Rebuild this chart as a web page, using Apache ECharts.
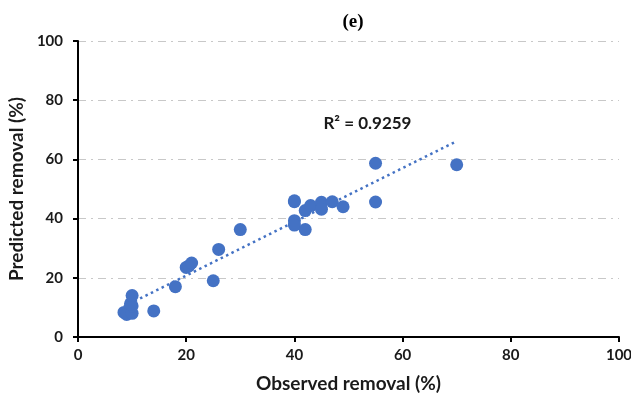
<!DOCTYPE html>
<html>
<head>
<meta charset="utf-8">
<script src="https://cdn.jsdelivr.net/npm/echarts@6/dist/echarts.min.js"></script>
<style>
html,body{margin:0;padding:0;background:#fff;}
#c{width:631px;height:396px;}
</style>
</head>
<body>
<div id="c"></div>
<script>
// observed vs predicted removal (%)
var observed  = [8.5, 9, 10, 10, 9.7, 10, 14, 18, 20, 20.5, 21, 25, 26, 30,
                 40, 40, 40, 40, 42, 42, 43, 45, 45, 47, 49, 55, 55, 70];
var predicted = [8.3, 7.6, 8, 10.5, 11.2, 14, 8.8, 17, 23.5, 24, 25, 19, 29.6, 36.3,
                 45.7, 46, 39.3, 37.8, 42.7, 36.3, 44.4, 45.5, 43.2, 45.7, 44, 58.7, 45.6, 58.2];
var xTicks = [0, 20, 40, 60, 80, 100];
var yTicks = [0, 20, 40, 60, 80, 100];
var r2Label = "R² = 0.9259";
var title = "(e)";

var pts = observed.map(function(x,i){ return [x, predicted[i]]; });

// least squares trendline over the observed range
var n = pts.length, sx=0, sy=0, sxx=0, sxy=0;
pts.forEach(function(p){ sx+=p[0]; sy+=p[1]; sxx+=p[0]*p[0]; sxy+=p[0]*p[1]; });
var slope = (n*sxy - sx*sy)/(n*sxx - sx*sx);
var icpt = (sy - slope*sx)/n;
var xMin = Math.min.apply(null, observed), xMax = Math.max.apply(null, observed);
var trend = [[xMin, icpt+slope*xMin], [xMax, icpt+slope*xMax]];

var BLUE = "#4472C4";
var ch = echarts.init(document.getElementById("c"), null, {renderer:"canvas"});
ch.setOption({
  animation:false,
  backgroundColor:"#fff",
  title:{ text:title, left:348, top:8, textAlign:"center",
    textStyle:{ fontFamily:"Liberation Serif", fontWeight:"bold", fontSize:19, color:"#000" } },
  grid:{ left:78, right:12, top:41, bottom:59, containLabel:false, outerBoundsMode:"none" },
  xAxis:{
    type:"value", min:0, max:100, interval:20,
    name:"Observed removal (%)", nameLocation:"middle", nameGap:37,
    nameTextStyle:{ fontFamily:"Lato", fontWeight:"bold", fontSize:19, color:"#1a1a1a" },
    axisLine:{ lineStyle:{ color:"#000", width:2 } },
    axisTick:{ show:true, length:5, lineStyle:{ color:"#000", width:2 } },
    axisLabel:{ color:"#1a1a1a", fontFamily:"Lato", fontWeight:"bold", fontSize:15, margin:11,
      formatter:function(v){ return xTicks.indexOf(v)>=0 ? String(v) : ""; } },
    splitLine:{ show:false }
  },
  yAxis:{
    type:"value", min:0, max:100, interval:20,
    name:"Predicted removal (%)", nameLocation:"middle", nameGap:45,
    nameTextStyle:{ fontFamily:"Lato", fontWeight:"bold", fontSize:19, color:"#1a1a1a" },
    axisLine:{ show:true, lineStyle:{ color:"#000", width:2 } },
    axisTick:{ show:true, length:5, lineStyle:{ color:"#000", width:2 } },
    axisLabel:{ color:"#1a1a1a", fontFamily:"Lato", fontWeight:"bold", fontSize:15, margin:15,
      formatter:function(v){ return yTicks.indexOf(v)>=0 ? String(v) : ""; } },
    splitLine:{ show:true, lineStyle:{ color:"#c8c8c8", width:1.2, type:[8,5,2,5] } }
  },
  series:[
    { type:"line", data:trend, showSymbol:false, symbol:"none", z:3,
      lineStyle:{ color:BLUE, width:2.5, type:[2.5,3.5], cap:"butt" },
      emphasis:{ disabled:true },
      markPoint:{ symbol:"rect", symbolSize:1, silent:true,
        itemStyle:{ color:"transparent" },
        label:{ show:true, formatter:r2Label, color:"#1a1a1a", fontFamily:"Lato",
          fontWeight:"bold", fontSize:17 },
        data:[{ coord:[53.5, 72] }] } },
    { type:"scatter", data:pts, symbolSize:13, z:4,
      itemStyle:{ color:BLUE, opacity:1 }, emphasis:{ disabled:true } }
  ]
});
</script>
</body>
</html>
